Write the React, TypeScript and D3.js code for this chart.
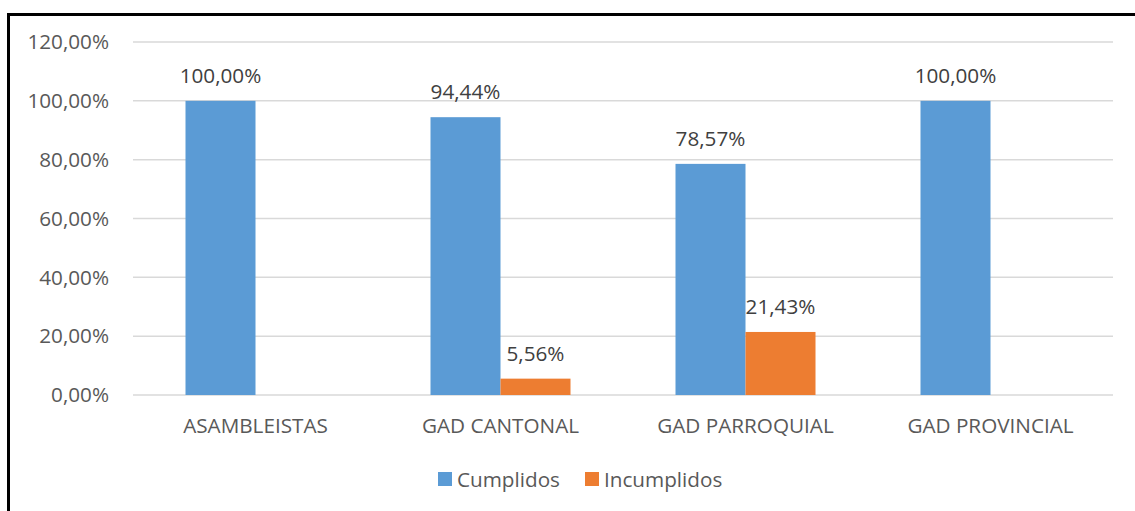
import React from "react";
import * as d3 from "d3";

const categories = ["ASAMBLEISTAS", "GAD CANTONAL", "GAD PARROQUIAL", "GAD PROVINCIAL"];
const seriesNames = ["Cumplidos", "Incumplidos"];
const cumplidos = [1.0, 0.9444, 0.7857, 1.0];
const incumplidos = [0, 0.0556, 0.2143, 0];
const yTicks = [0, 0.2, 0.4, 0.6, 0.8, 1.0, 1.2];
const colors = ["#5B9BD5", "#ED7D31"];

const W = 1135;
const H = 511;
const FONT = "'Open Sans', sans-serif";
const FS = 20.7;

const fmt = (v: number) => (v * 100).toFixed(2).replace(".", ",") + "%";

export default function App() {
  const x0 = d3.scaleBand<string>().domain(categories).range([133, 1113]).paddingInner(0).paddingOuter(0);
  const inner = d3
    .scaleBand<string>()
    .domain(seriesNames)
    .range([x0.bandwidth() * (105 / 2 / 245), x0.bandwidth() * (1 - 105 / 2 / 245)]);
  const y = d3.scaleLinear().domain([0, 1.2]).range([395, 42]);
  const series = [cumplidos, incumplidos];

  return (
    <svg width={W} height={H} style={{ position: "absolute", left: 0, top: 0, background: "#fff" }} fontFamily={FONT}>
      <rect x={0} y={0} width={W} height={H} fill="#fff" />
      {yTicks.map((t) => (
        <g key={t}>
          <line x1={133} x2={1113} y1={y(t)} y2={y(t)} stroke="#D9D9D9" strokeWidth={1.5} />
          <text x={109} y={y(t)} dy="0.35em" textAnchor="end" fontSize={FS} fill="#595959">
            {fmt(t)}
          </text>
        </g>
      ))}
      {categories.map((c, i) => (
        <g key={c}>
          {series.map((s, j) => {
            const v = s[i];
            const bx = (x0(c) as number) + (inner(seriesNames[j]) as number);
            const bw = inner.bandwidth();
            if (v <= 0) return null;
            return (
              <g key={j}>
                <rect x={bx} y={y(v)} width={bw} height={y(0) - y(v)} fill={colors[j]} />
                <text x={bx + bw / 2} y={y(v) - 18} textAnchor="middle" fontSize={FS} fill="#404040">
                  {fmt(v)}
                </text>
              </g>
            );
          })}
          <text x={(x0(c) as number) + x0.bandwidth() / 2} y={433} textAnchor="middle" fontSize={FS} fill="#595959">
            {c}
          </text>
        </g>
      ))}
      {seriesNames.map((n, j) => {
        const lx = [438, 585][j];
        return (
          <g key={n}>
            <rect x={lx} y={472} width={14} height={14} fill={colors[j]} />
            <text x={lx + 19} y={487} fontSize={FS} fill="#595959">
              {n}
            </text>
          </g>
        );
      })}
      <line x1={7} x2={W} y1={14.5} y2={14.5} stroke="#000" strokeWidth={3} />
      <line x1={8.5} x2={8.5} y1={13} y2={H} stroke="#000" strokeWidth={3} />
    </svg>
  );
}
